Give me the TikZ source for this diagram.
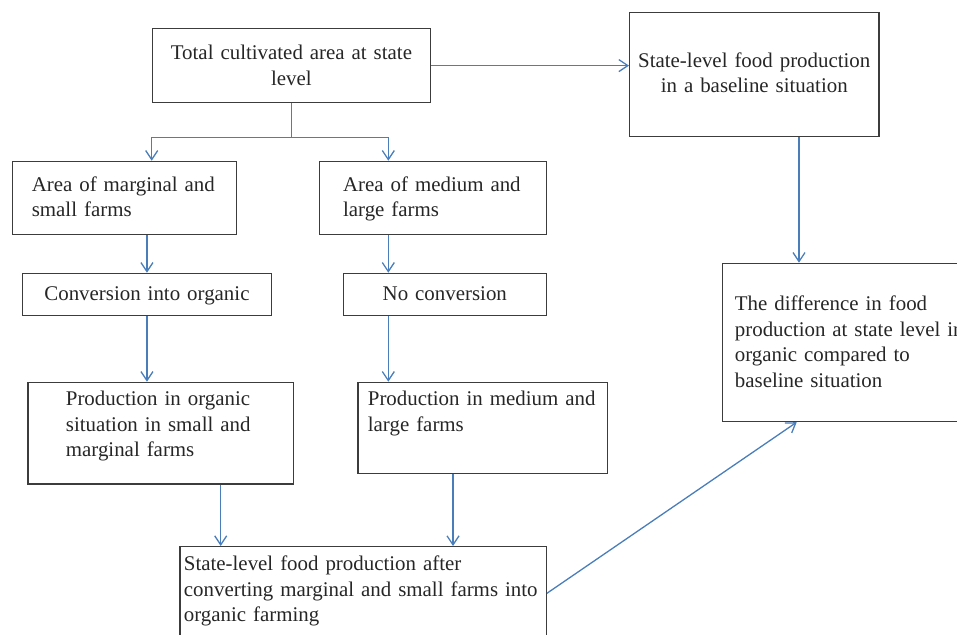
\documentclass[tikz,border=0pt]{standalone}
\usepackage{fontspec}
\setmainfont{Liberation Serif}
\usetikzlibrary{arrows.meta}
\definecolor{arrowblue}{HTML}{4A7EBB}
\definecolor{boxgray}{HTML}{3C3C3C}

\begin{document}
\begin{tikzpicture}[x=1pt, y=-1pt, main/.style = {draw=boxgray, line width=1.2pt, rectangle, anchor=north west, inner ysep=0pt, text=black!85, font=\fontsize{20.9}{25.5}\selectfont}, arr/.style = {draw=arrowblue, line width=1.3pt, -{Straight Barb[length=9pt, width=12pt]}}]
        \useasboundingbox (0,0) rectangle (957,634);
        \clip (0,0) rectangle (957,634);
        \node[main, align=center, text width=268.3pt, inner xsep=5pt, text height=31pt, text depth=42.4pt] (1) at (151.7,28.3) {Total cultivated area at state\\level};
        \node[main, align=center, text width=245.3pt, inner xsep=2pt, text height=55pt, text depth=69.3pt] (2) at (629,11.7) {State-level food production\\in a baseline situation};
        \node[main, align=left, text width=185pt, inner xsep=19.5pt, text height=30pt, text depth=43.3pt] (3) at (11.7,160.7) {Area of marginal and\\small farms};
        \node[main, align=left, text width=179.7pt, inner xsep=23.5pt, text height=30pt, text depth=43.3pt] (4) at (319,160.7) {Area of medium and\\large farms};
        \node[main, align=center, text width=238.7pt, inner xsep=5pt, text height=27.3pt, text depth=14.7pt] (5) at (22,272.7) {Conversion into organic};
        \node[main, align=center, text width=193pt, inner xsep=5pt, text height=27.3pt, text depth=14.7pt] (6) at (342.7,272.7) {No conversion};
        \node[main, align=left, text width=189.4pt, inner xsep=38pt, text height=23.3pt, text depth=78.3pt] (7) at (27.3,381.7) {Production in organic\\situation in small and\\marginal farms};
        \node[main, align=left, text width=229.4pt, inner xsep=10pt, text height=23.3pt, text depth=67.7pt] (8) at (357.3,381.7) {Production in medium and\\large farms};
        \node[main, align=left, text width=358.4pt, inner xsep=4pt, text height=24pt, text depth=80pt] (9) at (179.3,546) {State-level food production after\\converting marginal and small farms into\\organic farming};
        \node[main, align=left, text width=240pt, inner xsep=12.3pt, text height=47.3pt, text depth=111pt] (10) at (722,262.7) {The difference in food\\production at state level in\\organic compared to\\baseline situation};
        \draw[arr] (1.east) -- (1.east -| 2.west);
        \draw[arr] (1.south) -- ++(0,34.3) -| (151.7,0 |- 3.north);
        \draw[arr] (1.south) -- ++(0,34.3) -| (388.3,0 |- 4.north);
        \draw[arr] (5.north |- 3.south) -- (5.north);
        \draw[arr] (388.3,0 |- 4.south) -- (388.3,0 |- 6.north);
        \draw[arr] (5.south) -- (5.south |- 7.north);
        \draw[arr] (388.3,0 |- 6.south) -- (388.3,0 |- 8.north);
        \draw[arr] (220.7,0 |- 7.south) -- (220.7,0 |- 9.north);
        \draw[arr] (453,0 |- 8.south) -- (453,0 |- 9.north);
        \draw[arr] (799,0 |- 2.south) -- (799,0 |- 10.north);
        \draw[arr] (9.east |- 0,593.3) -- (796.7,0 |- 10.south);
    \end{tikzpicture}
\end{document}
